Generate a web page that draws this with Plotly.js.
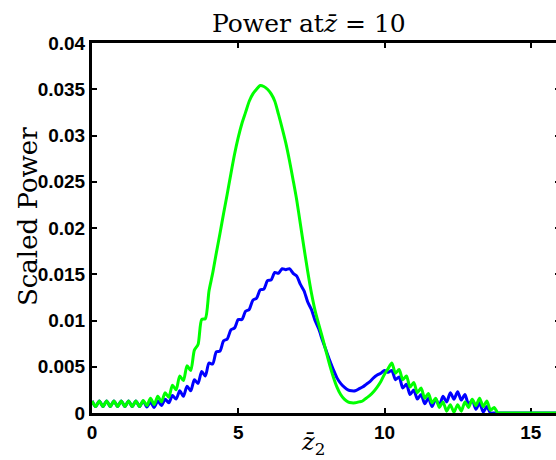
<!DOCTYPE html>
<html>
<head>
<meta charset="utf-8">
<script src="https://cdn.plot.ly/plotly-3.0.1.min.js"></script>
<style>
html,body{margin:0;padding:0;overflow:hidden;background:#fff;}
#plot{width:562px;height:460px;}
</style>
</head>
<body>
<div id="plot"></div>
<script>
// z2 positions
var zbar2 = [
 0,0.125,0.25,0.375,0.5,0.625,0.75,0.875,1,1.125,1.25,1.375,1.5,1.625,1.75,1.875,
 2,2.125,2.25,2.375,2.5,2.625,2.75,2.875,3,3.125,3.25,3.375,3.5,3.625,3.75,3.875,
 4,4.125,4.25,4.375,4.5,4.625,4.75,4.875,5,5.125,5.25,5.375,5.5,5.625,5.75,5.875,
 6,6.125,6.25,6.375,6.5,6.625,6.75,6.875,7,7.125,7.25,7.375,7.5,7.625,7.75,7.875,
 8,8.125,8.25,8.375,8.5,8.625,8.75,8.875,9,9.125,9.25,9.375,9.5,9.625,9.75,9.875,
 10,10.125,10.25,10.375,10.5,10.625,10.75,10.875,11,11.125,11.25,11.375,11.5,11.625,11.75,11.875,
 12,12.125,12.25,12.375,12.5,12.625,12.75,12.875,13,13.125,13.25,13.375,13.5,13.625,13.75,13.875,
 14,14.5,15,15.5,16
];
// blue series
var powerBlue = [
 0.0013,0.0007,0.0013,0.0007,0.0013,0.0007,0.0013,0.0007,0.0013,0.0007,0.0013,0.0007,0.0013,0.0007,0.0013,0.00065,
 0.0012,0.0006,0.0013,0.0008,0.0015,0.0011,0.0019,0.0015,0.0024,0.0018,0.0029,0.0024,0.0036,0.0032,0.0045,0.0040,
 0.0054,0.0053,0.0066,0.0067,0.0078,0.0080,0.0090,0.0092,0.0101,0.0101,0.0110,0.0112,0.0122,0.0124,0.0133,0.0134,
 0.0143,0.0144,0.0152,0.0151,0.0156,0.0155,0.0156,0.0151,0.0148,0.0139,0.0132,0.0120,0.0112,0.0100,0.0091,0.0079,
 0.0068,0.0057,0.0047,0.0038,0.0032,0.0028,0.0025,0.0024,0.0024,0.0026,0.0028,0.0031,0.0034,0.0038,0.0041,0.0043,
 0.0046,0.0044,0.0046,0.0036,0.0039,0.0027,0.0031,0.0020,0.0025,0.0015,0.0020,0.0010,0.0016,0.0007,0.0015,0.0008,
 0.0018,0.0012,0.0022,0.0015,0.0023,0.0014,0.0020,0.0009,0.0014,0.0004,0.0011,0.0001,0.0007,0,0,0,
 0,0,0,0,0
];
// green series
var powerGreen = [
 0.0013,0.0007,0.0013,0.0007,0.0013,0.0007,0.0013,0.0007,0.0013,0.0007,0.0013,0.0007,0.0013,0.0007,0.00135,0.0008,
 0.0016,0.0009,0.0018,0.0012,0.0022,0.0017,0.0030,0.0025,0.0040,0.0035,0.0051,0.0046,0.0068,0.0074,0.0101,0.0102,
 0.0132,0.0151,0.0173,0.0194,0.0216,0.0237,0.0259,0.0280,0.0298,0.0313,0.0325,0.0337,0.0345,0.0350,0.0354,0.0353,
 0.0350,0.0345,0.0337,0.0323,0.0308,0.0292,0.0273,0.0252,0.0230,0.0204,0.0178,0.0153,0.0130,0.0111,0.0096,0.0082,
 0.0067,0.0052,0.0039,0.0028,0.0020,0.0015,0.0012,0.0011,0.0011,0.0012,0.0013,0.0016,0.0019,0.0023,0.0028,0.0034,
 0.0042,0.0048,0.0054,0.0043,0.0047,0.0036,0.0040,0.0028,0.0033,0.0022,0.0027,0.0016,0.0021,0.0011,0.0016,0.0006,
 0.0012,0.0002,0.0009,0.0001,0.0009,0.0002,0.0012,0.0006,0.0015,0.0008,0.0016,0.0007,0.0013,0.0003,0.0006,0,
 0,0,0,0,0
];
var xTicks = [0,5,10,15];
var xTickText = ['0','5','10','15'];
var yTicks = [0,0.005,0.01,0.015,0.02,0.025,0.03,0.035,0.04];
var yTickText = ['0','0.005','0.01','0.015','0.02','0.025','0.03','0.035','0.04'];

var PL=92, PR=560, PT=43, PB=413;
function px(x){return (x-PL)/(PR-PL);}
function py(y){return (PB-y)/(PB-PT);}

var traces = [
 {x:zbar2, y:powerBlue, type:'scatter', mode:'lines', line:{color:'#0000ff', width:3, shape:'spline', smoothing:0.7}, showlegend:false, hoverinfo:'none'},
 {x:zbar2, y:powerGreen, type:'scatter', mode:'lines', line:{color:'#00ff00', width:3, shape:'spline', smoothing:0.7}, showlegend:false, hoverinfo:'none'}
];
var tickFont = {family:'Liberation Sans, Arial, sans-serif', size:19, color:'#000', weight:'bold'};
var serif = {family:'DejaVu Serif, serif', size:25, color:'#000'};
var layout = {
 width:562, height:460,
 margin:{l:PL, r:562-PR, t:PT, b:460-PB, pad:0},
 paper_bgcolor:'#fff', plot_bgcolor:'#fff',
 xaxis:{range:[0,16], tickvals:xTicks, ticktext:xTickText, ticks:'inside', ticklen:5, tickwidth:2, tickcolor:'#000',
        showline:true, linewidth:3, linecolor:'#000', mirror:'ticks', showgrid:false, zeroline:false,
        tickfont:tickFont, layer:'below traces', fixedrange:true},
 yaxis:{range:[0,0.04], tickvals:yTicks, ticktext:yTickText, ticks:'inside', ticklen:5, tickwidth:2, tickcolor:'#000',
        showline:true, linewidth:3, linecolor:'#000', mirror:'ticks', showgrid:false, zeroline:false,
        tickfont:tickFont, layer:'below traces', fixedrange:true},
 annotations:[
  {text:'Power at<i>z\u0304</i> = 10', xref:'paper', yref:'paper', x:px(309), y:py(23), xanchor:'center', yanchor:'middle', showarrow:false, font:serif},
  {text:'Scaled Power', xref:'paper', yref:'paper', x:px(28), y:py(217), xanchor:'center', yanchor:'middle', textangle:-90, showarrow:false, font:{family:serif.family, size:26, color:'#000'}},
  {text:'<i>z\u0304</i><sub>2</sub>', xref:'paper', yref:'paper', x:px(313), y:py(443), xanchor:'center', yanchor:'middle', showarrow:false, font:{family:serif.family, size:24, color:'#000'}}
 ]
};
Plotly.newPlot('plot', traces, layout, {staticPlot:true, displayModeBar:false});
</script>
</body>
</html>
